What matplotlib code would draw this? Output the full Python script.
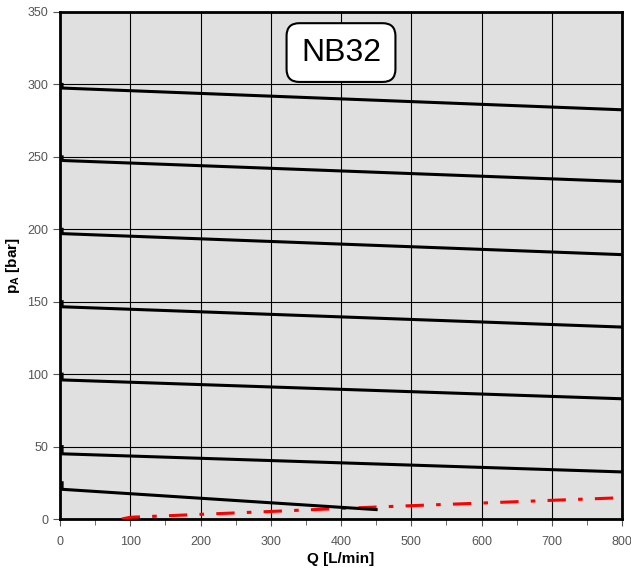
import matplotlib
matplotlib.use('Agg')
import matplotlib.pyplot as plt
from matplotlib.ticker import MultipleLocator

plt.rcParams['font.family'] = ['Liberation Sans', 'DejaVu Sans']

# pressure curves: setting at Q~0, start of sloped part, value at end
q_start = [3, 3, 3, 3, 3, 3, 3]
q_end = [800, 800, 800, 800, 800, 800, 450]
p_set = [300, 250, 200, 150, 100, 50, 25]
p_start = [297.5, 247.5, 197, 146.5, 96, 45, 20.5]
p_end = [282.5, 233, 182.5, 132.5, 83, 32.5, 6.5]

# red dash-dot curve
q_red = [88, 100, 200, 300, 400, 500, 600, 700, 800]
p_red = [0, 1.2, 3.2, 5.2, 7.3, 9.2, 11.0, 12.9, 14.7]

label = 'NB32'

fig = plt.figure(figsize=(6.31, 5.71), dpi=100)
ax = fig.add_axes([60 / 631, 52 / 571, 562 / 631, 507 / 571])
ax.set_facecolor('#e0e0e0')

ax.plot(q_red, p_red, color='red', lw=2.2, linestyle=(0, (6, 4, 1.5, 4)), zorder=3)

for i in range(len(p_set)):
    ax.plot([q_start[i], q_start[i], q_end[i]], [p_set[i], p_start[i], p_end[i]],
            color='black', lw=2.2, solid_joinstyle='miter', zorder=4)

ax.set_xlim(0, 800)
ax.set_ylim(0, 350)
ax.xaxis.set_major_locator(MultipleLocator(100))
ax.xaxis.set_minor_locator(MultipleLocator(50))
ax.yaxis.set_major_locator(MultipleLocator(50))
ax.grid(True, which='major', color='black', lw=0.8)
ax.set_axisbelow(True)

for s in ax.spines.values():
    s.set_linewidth(2)
ax.tick_params(which='both', direction='out', colors='#555555', labelsize=9)
ax.tick_params(which='major', length=5)
ax.tick_params(which='minor', length=4)
ax.tick_params(axis='x', pad=7)

ax.set_xlabel('Q [L/min]', fontsize=11, fontweight='bold')
ax.set_ylabel('p$_\\mathregular{A}$ [bar]', fontsize=11, fontweight='bold')
ax.xaxis.set_label_coords(0.5, -0.065)
ax.yaxis.set_label_coords(-0.068, 0.5)

ax.text(400, 322, label, fontsize=23, ha='center', va='center', zorder=5,
        bbox=dict(boxstyle='round,pad=0.45,rounding_size=0.4', fc='white', ec='black', lw=1.5))

fig.savefig('out.png', dpi=100)
